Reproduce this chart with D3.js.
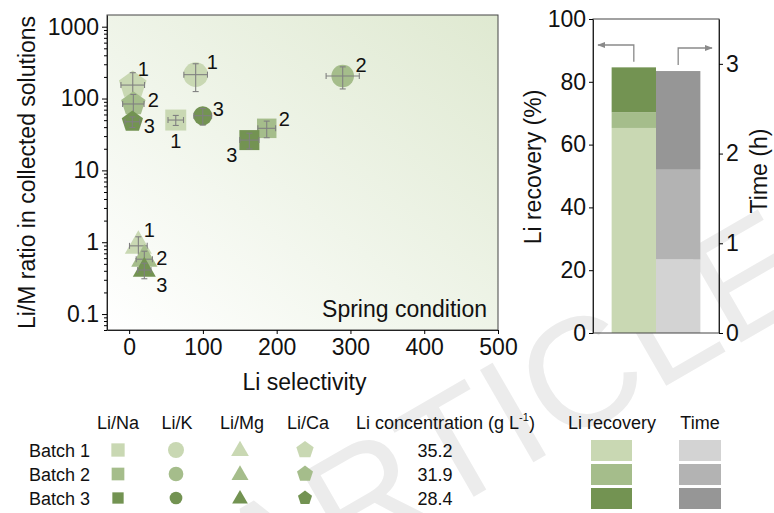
<!DOCTYPE html>
<html>
<head>
<meta charset="utf-8">
<script src="https://cdn.jsdelivr.net/npm/d3@7"></script>
<style>
  body { margin: 0; background: #fff; }
  svg text { font-family: "Liberation Sans", Arial, Helvetica, sans-serif; fill: #111; }
</style>
</head>
<body>
<svg id="fig" width="774" height="513"></svg>
<script>
// ---------- data ----------
const batches = ["Batch 1", "Batch 2", "Batch 3"];
const ionRatios = ["Li/Na", "Li/K", "Li/Mg", "Li/Ca"];

// Li selectivity (x) and Li/M ratio in collected solutions (y), batches 1-3
const naSel = [63.2, 186.5, 163.0];
const naRatio = [50.2, 38.5, 26.4];
const naSelErr = [10.5, 12, 13];
const naRatioErr = [8, 10, 6.5];

const kSel = [90.2, 289.5, 99.8];
const kRatio = [215, 206, 57.7];
const kSelErr = [16, 22.5, 12];
const kRatioErr = [90, 70, 15];

const mgSel = [12.5, 20.6, 20.6];
const mgRatio = [0.89, 0.58, 0.41];
const mgSelErr = [12, 11, 9];
const mgRatioErr = [0.3, 0.17, 0.1];

const caSel = [4.9, 5.7, 4.4];
const caRatio = [154, 84, 47.5];
const caSelErr = [16, 14.5, 10];
const caRatioErr = [75, 30, 8];

const liConcentration = ["35.2", "31.9", "28.4"];   // g L-1
const recoveryParts = [65.3, 5.0, 14.3];            // Li recovery (%), stacked by batch
const timeParts = [0.82, 1.00, 1.10];               // time (h), stacked by batch

const xTicks = [0, 100, 200, 300, 400, 500];
const yTicks = [0.1, 1, 10, 100, 1000];
const recTicks = [0, 20, 40, 60, 80, 100];
const timeTicks = [0, 1, 2, 3];

// ---------- styling ----------
const greens = ["#c9d8b3", "#a5bd8b", "#739352"];
const greys = ["#d3d3d3", "#b3b3b3", "#969696"];
const errColor = "#808080";

const svg = d3.select("#fig");
const defs = svg.append("defs");

// pentagon symbol type (point up), area = size
const symbolPentagon = {
  draw(ctx, size) {
    const r = Math.sqrt(size / (2.5 * Math.sin(2 * Math.PI / 5)));
    for (let i = 0; i < 5; i++) {
      const a = -Math.PI / 2 + i * 2 * Math.PI / 5;
      const px = r * Math.cos(a), py = r * Math.sin(a);
      if (i === 0) ctx.moveTo(px, py); else ctx.lineTo(px, py);
    }
    ctx.closePath();
  }
};

// ---------- watermark ----------
svg.append("text")
  .attr("transform", "translate(255,623) rotate(-30)")
  .attr("font-size", 155)
  .style("fill", "#ececec")
  .text("ARTICLE");

// ---------- scatter panel ----------
const L = { x0: 107, x1: 498, y0: 15, y1: 330 };
const x = d3.scaleLinear().domain([-30, 500]).range([L.x0, L.x1]);
const y = d3.scaleLog().domain([0.06, 1455]).range([L.y1, L.y0]);

const grad = defs.append("linearGradient").attr("id", "bgGrad")
  .attr("x1", 0).attr("y1", 1).attr("x2", 1).attr("y2", 0);
grad.append("stop").attr("offset", 0).attr("stop-color", "#ffffff");
grad.append("stop").attr("offset", 0.45).attr("stop-color", "#f0f5ea");
grad.append("stop").attr("offset", 1).attr("stop-color", "#dfe9d1");

svg.append("rect")
  .attr("x", L.x0).attr("y", L.y0)
  .attr("width", L.x1 - L.x0).attr("height", L.y1 - L.y0)
  .attr("fill", "url(#bgGrad)")
  .attr("stroke", "#444").attr("stroke-width", 1);

// series definitions
const series = [
  { sel: naSel, ratio: naRatio, sErr: naSelErr, rErr: naRatioErr, type: d3.symbolSquare,
    sizes: [440, 380, 400], labelOff: [[0, 21], [17.6, -10], [-17.6, 14.3]] },
  { sel: kSel, ratio: kRatio, sErr: kSelErr, rErr: kRatioErr, type: d3.symbolCircle,
    sizes: [475, 401, 283], labelOff: [[16.6, -13], [18.3, -11], [15.6, -6.7]] },
  { sel: mgSel, ratio: mgRatio, sErr: mgSelErr, rErr: mgRatioErr, type: d3.symbolTriangle,
    sizes: [316, 300, 229], labelOff: [[11, -16], [17.4, -1.6], [17.4, 14.3]] },
  { sel: caSel, ratio: caRatio, sErr: caSelErr, rErr: caRatioErr, type: symbolPentagon,
    sizes: [500, 390, 298], labelOff: [[10.6, -16], [20, -4], [17, 4.3]] }
];

const pts = svg.append("g");
series.forEach(s => {
  s.sel.forEach((sv, i) => {
    const cx = x(sv), cy = y(s.ratio[i]);
    const g = pts.append("g");
    g.append("path")
      .attr("transform", `translate(${cx},${cy})`)
      .attr("d", d3.symbol().type(s.type).size(s.sizes[i])())
      .attr("fill", greens[i]);
    // error bars
    const xl = x(sv - s.sErr[i]), xr = x(sv + s.sErr[i]);
    const yt = y(s.ratio[i] + s.rErr[i]), yb = y(Math.max(s.ratio[i] - s.rErr[i], 0.061));
    const eb = g.append("g").attr("stroke", errColor).attr("stroke-width", 1.1).attr("fill", "none");
    eb.append("line").attr("x1", xl).attr("x2", xr).attr("y1", cy).attr("y2", cy);
    eb.append("line").attr("x1", xl).attr("x2", xl).attr("y1", cy - 3).attr("y2", cy + 3);
    eb.append("line").attr("x1", xr).attr("x2", xr).attr("y1", cy - 3).attr("y2", cy + 3);
    eb.append("line").attr("x1", cx).attr("x2", cx).attr("y1", yt).attr("y2", yb);
    eb.append("line").attr("x1", cx - 3).attr("x2", cx + 3).attr("y1", yt).attr("y2", yt);
    eb.append("line").attr("x1", cx - 3).attr("x2", cx + 3).attr("y1", yb).attr("y2", yb);
    g.append("text")
      .attr("x", cx + s.labelOff[i][0]).attr("y", cy + s.labelOff[i][1])
      .attr("dy", "0.36em").attr("text-anchor", "middle")
      .attr("font-size", 20)
      .text(i + 1);
  });
});

// axes
const xAxis = svg.append("g").attr("transform", `translate(0,${L.y1})`)
  .call(d3.axisBottom(x).tickValues(xTicks).tickSize(4).tickSizeOuter(0).tickPadding(5));
const yAxis = svg.append("g").attr("transform", `translate(${L.x0},0)`)
  .call(d3.axisLeft(y).tickValues(yTicks).tickFormat(d => String(d)).tickSize(5).tickSizeOuter(0).tickPadding(3));
const minor = [];
for (let e = -2; e <= 3; e++) for (let k = 2; k <= 9; k++) {
  const v = k * Math.pow(10, e);
  if (v >= 0.06 && v <= 1455) minor.push(v);
}
svg.append("g").attr("transform", `translate(${L.x0},0)`)
  .call(d3.axisLeft(y).tickValues(minor).tickFormat("").tickSize(3).tickSizeOuter(0))
  .call(g => g.select(".domain").remove());
[xAxis, yAxis].forEach(a => {
  a.selectAll("text").attr("font-size", 23).style("fill", "#111");
  a.select(".domain").attr("stroke", "#222");
});

svg.append("text")
  .attr("x", (L.x0 + L.x1) / 2 + 2).attr("y", 390)
  .attr("text-anchor", "middle").attr("font-size", 23)
  .text("Li selectivity");
svg.append("text")
  .attr("transform", `translate(35,${(L.y0 + L.y1) / 2}) rotate(-90)`)
  .attr("text-anchor", "middle").attr("font-size", 23)
  .text("Li/M ratio in collected solutions");
svg.append("text")
  .attr("x", 487).attr("y", 317)
  .attr("text-anchor", "end").attr("font-size", 23)
  .text("Spring condition");

// ---------- stacked bar panel ----------
const R = { x0: 593, x1: 719, y0: 19, y1: 333 };
const xb = d3.scaleBand().domain(["recovery", "time"]).range([R.x0, R.x1])
  .paddingInner(0).paddingOuter(0.42);
const yRec = d3.scaleLinear().domain([0, 100]).range([R.y1, R.y0]);
const yTime = d3.scaleLinear().domain([0, 3.5]).range([R.y1, R.y0]);

const recStack = d3.cumsum(recoveryParts);
const timeStack = d3.cumsum(timeParts);
recoveryParts.forEach((v, i) => {
  const top = recStack[i], bot = top - v;
  svg.append("rect")
    .attr("x", xb("recovery")).attr("width", xb.bandwidth())
    .attr("y", yRec(top)).attr("height", yRec(bot) - yRec(top))
    .attr("fill", greens[i]);
});
timeParts.forEach((v, i) => {
  const top = timeStack[i], bot = top - v;
  svg.append("rect")
    .attr("x", xb("time")).attr("width", xb.bandwidth())
    .attr("y", yTime(top)).attr("height", yTime(bot) - yTime(top))
    .attr("fill", greys[i]);
});

svg.append("rect")
  .attr("x", R.x0).attr("y", R.y0)
  .attr("width", R.x1 - R.x0).attr("height", R.y1 - R.y0)
  .attr("fill", "none").attr("stroke", "#444").attr("stroke-width", 1);

const recAxis = svg.append("g").attr("transform", `translate(${R.x0},0)`)
  .call(d3.axisLeft(yRec).tickValues(recTicks).tickSize(4).tickSizeOuter(0).tickPadding(3));
const timeAxis = svg.append("g").attr("transform", `translate(${R.x1},0)`)
  .call(d3.axisRight(yTime).tickValues(timeTicks).tickFormat(d3.format("d"))
    .tickSize(4).tickSizeOuter(0).tickPadding(3));
[recAxis, timeAxis].forEach(a => {
  a.selectAll("text").attr("font-size", 23).style("fill", "#111");
  a.select(".domain").attr("stroke", "#222");
});

svg.append("text")
  .attr("transform", "translate(541,167) rotate(-90)")
  .attr("text-anchor", "middle").attr("font-size", 23)
  .text("Li recovery (%)");
svg.append("text")
  .attr("transform", "translate(767,171) rotate(-90)")
  .attr("text-anchor", "middle").attr("font-size", 23)
  .text("Time (h)");

// arrows pointing each bar to its axis
defs.append("marker").attr("id", "arrowHead")
  .attr("viewBox", "0 0 10 10").attr("refX", 9).attr("refY", 5)
  .attr("markerWidth", 8).attr("markerHeight", 8).attr("orient", "auto")
  .attr("markerUnits", "userSpaceOnUse")
  .append("path").attr("d", "M0,1 L10,5 L0,9 Z").attr("fill", "#8a8a8a");
const recCx = xb("recovery") + xb.bandwidth() / 2;
const timeCx = xb("time") + xb.bandwidth() / 2;
const arrowY = 45;
svg.append("path")
  .attr("d", `M${recCx},${yRec(recStack[2]) - 5.5} V${arrowY} H${R.x0 + 5}`)
  .attr("fill", "none").attr("stroke", "#8a8a8a").attr("stroke-width", 1.3)
  .attr("marker-end", "url(#arrowHead)");
svg.append("path")
  .attr("d", `M${timeCx},${yTime(timeStack[2]) - 6} V${arrowY + 3} H${R.x1 - 7}`)
  .attr("fill", "none").attr("stroke", "#8a8a8a").attr("stroke-width", 1.3)
  .attr("marker-end", "url(#arrowHead)");

// ---------- legend table ----------
const leg = svg.append("g").attr("font-size", 18);
const rowY = [450, 474, 498];
const headY = 428.5;
const colX = [118, 176, 240, 305];
const headX = [118, 177, 242, 308];
const legendSizes = [
  [177, 161, 128],   // squares
  [201, 170, 127],   // circles
  [136, 125, 107],   // triangles
  [197, 168, 130]    // pentagons
];
const legendTypes = [d3.symbolSquare, d3.symbolCircle, d3.symbolTriangle, symbolPentagon];

ionRatios.forEach((r, j) => {
  leg.append("text").attr("x", headX[j]).attr("y", headY)
    .attr("text-anchor", "middle").text(r);
});
batches.forEach((b, i) => {
  leg.append("text").attr("x", 29).attr("y", rowY[i] + 6.5).text(b);
  legendTypes.forEach((t, j) => {
    leg.append("path")
      .attr("transform", `translate(${colX[j]},${rowY[i] + (j === 2 ? 1 : 0)})`)
      .attr("d", d3.symbol().type(t).size(legendSizes[j][i])())
      .attr("fill", greens[i]);
  });
  leg.append("text").attr("x", 435).attr("y", rowY[i] + 6.5)
    .attr("text-anchor", "middle").text(liConcentration[i]);
  leg.append("rect").attr("x", 591).attr("y", rowY[i] - 10)
    .attr("width", 41).attr("height", 21).attr("fill", greens[i]);
  leg.append("rect").attr("x", 679).attr("y", rowY[i] - 10)
    .attr("width", 42).attr("height", 21).attr("fill", greys[i]);
});

const concHead = leg.append("text").attr("x", 356).attr("y", headY);
concHead.append("tspan").text("Li concentration (g L");
concHead.append("tspan").attr("font-size", 11).attr("dy", -8).text("-1");
concHead.append("tspan").attr("dy", 8).text(")");
leg.append("text").attr("x", 612).attr("y", headY).attr("text-anchor", "middle").text("Li recovery");
leg.append("text").attr("x", 700).attr("y", headY).attr("text-anchor", "middle").text("Time");
</script>
</body>
</html>
